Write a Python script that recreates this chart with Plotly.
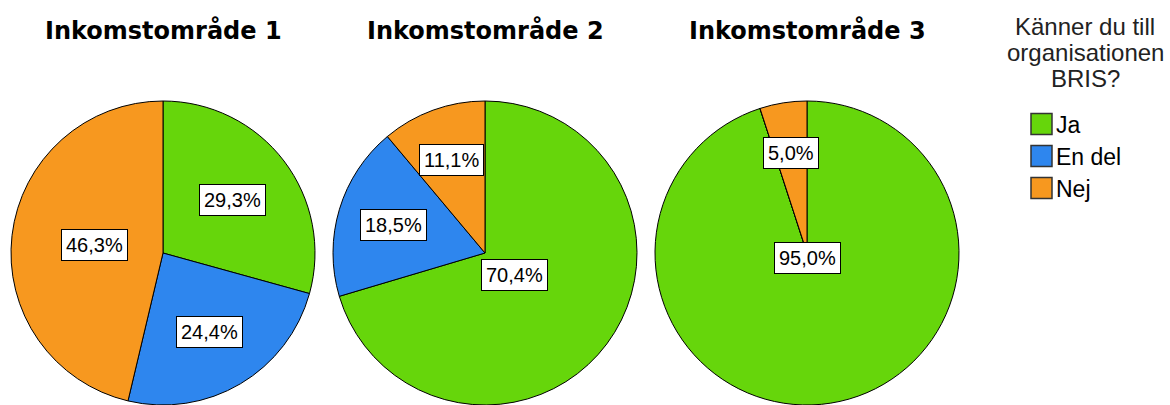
import math
import plotly.graph_objects as go

# ---- data ----
categories = ["Ja", "En del", "Nej"]
areas = ["Inkomstområde 1", "Inkomstområde 2", "Inkomstområde 3"]
area1 = [29.3, 24.4, 46.3]
area2 = [70.4, 18.5, 11.1]
area3 = [95.0, 0.0, 5.0]
legend_title_lines = ["Känner du till", "organisationen", "BRIS?"]

colors = ["#66d60b", "#2e86ee", "#f7981f"]

W, H = 1170, 405
R = 152
cy = 253
centers_x = [163, 485, 807]

fig = go.Figure()
annotations = []
shapes = []
for i, (name, vals) in enumerate(zip(areas, [area1, area2, area3])):
    cx = centers_x[i]
    fig.add_trace(go.Pie(
        labels=categories, values=vals, sort=False, direction="clockwise",
        rotation=0, textinfo="none", hoverinfo="label+percent",
        marker=dict(colors=colors, line=dict(color="black", width=1)),
        domain=dict(x=[(cx - R) / W, (cx + R) / W], y=[1 - (cy + R) / H, 1 - (cy - R) / H]),
        showlegend=False, name=name,
    ))
    # labels at slice centroids
    total = sum(vals)
    start = 0.0
    for v in vals:
        if v <= 0:
            continue
        frac = v / total
        half = math.pi * frac
        mid = 2 * math.pi * (start + frac / 2)
        d = 2 * R * math.sin(half) / (3 * half)
        px = cx + d * math.sin(mid)
        py = cy - d * math.cos(mid)
        annotations.append(dict(
            x=px / W, y=1 - py / H, xref="paper", yref="paper", showarrow=False,
            text=f"{v:.1f}".replace(".", ",") + "%",
            font=dict(family="Liberation Sans", size=20, color="black"),
            bgcolor="white", bordercolor="black", borderwidth=1, borderpad=4,
            xanchor="center", yanchor="middle",
        ))
        start += frac
    annotations.append(dict(
        x=cx / W, y=1 - 30 / H, xref="paper", yref="paper", showarrow=False,
        text=f"<b>{name}</b>", font=dict(family="DejaVu Sans", size=24, color="black"),
        xanchor="center", yanchor="middle",
    ))

# legend title
for j, line in enumerate(legend_title_lines):
    annotations.append(dict(
        x=1085 / W, y=1 - (26 + 26 * j) / H, xref="paper", yref="paper", showarrow=False,
        text=line, font=dict(family="Liberation Sans", size=24, color="#222"),
        xanchor="center", yanchor="middle", borderpad=0,
    ))

# legend keys
for j, (cat, col) in enumerate(zip(categories, colors)):
    yc = 124 + 32 * j
    shapes.append(dict(
        type="rect", xref="paper", yref="paper",
        x0=1031 / W, x1=1052 / W, y0=1 - (yc + 10.5) / H, y1=1 - (yc - 10.5) / H,
        fillcolor=col, line=dict(color="#333", width=1.5),
    ))
    annotations.append(dict(
        x=1054 / W, y=1 - (yc + 1) / H, xref="paper", yref="paper", showarrow=False,
        text=cat, font=dict(family="Liberation Sans", size=23, color="black"),
        xanchor="left", yanchor="middle",
    ))

fig.update_layout(
    width=W, height=H, margin=dict(l=0, r=0, t=0, b=0),
    paper_bgcolor="white", plot_bgcolor="white",
    annotations=annotations, shapes=shapes, showlegend=False,
)

fig.write_html("out.html", config={"displayModeBar": False},
               post_script="document.body.style.margin='0px';")
